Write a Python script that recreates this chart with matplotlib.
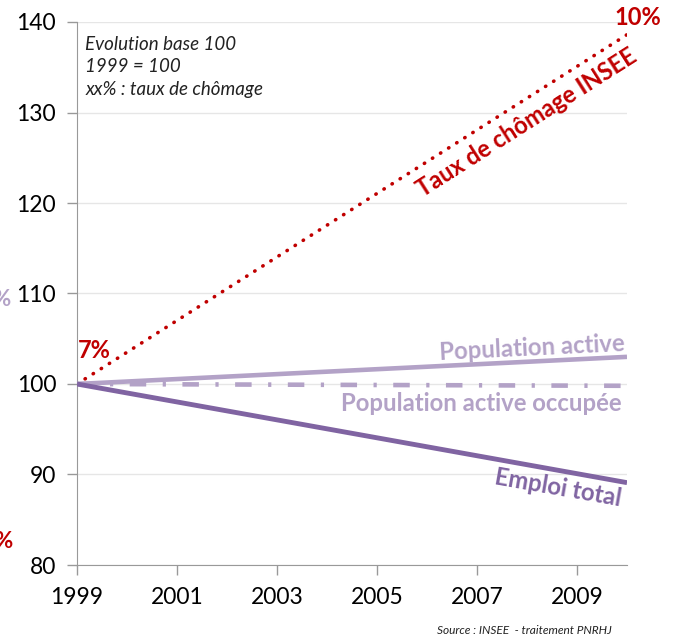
import matplotlib
matplotlib.use("Agg")
import matplotlib.pyplot as plt

years = [1999, 2010]
chomage = [100, 138.6]
pop_active = [100, 103.0]
pop_occupee = [100, 99.8]
emploi_total = [100, 89.1]
xticks = [1999, 2001, 2003, 2005, 2007, 2009]
yticks = [80, 90, 100, 110, 120, 130, 140]

RED = "#C00000"
LIGHT = "#B3A2C7"
DARK = "#8064A2"
FONT = "Lato"

fig = plt.figure(figsize=(6.76, 6.39), dpi=100)
ax = fig.add_axes([77/676, 1-565/639, (627-77)/676, (565-22)/639])

ax.plot(years, chomage, color=RED, lw=2.6, linestyle=(0, (0.1, 2.55)), dash_capstyle="round", zorder=3)
ax.plot(years, pop_active, color=LIGHT, lw=3.3, solid_capstyle="butt", zorder=3)
ax.plot(years, pop_occupee, color=LIGHT, lw=3.3, linestyle=(0, (3.6, 3.6, 0.7, 3.6)), zorder=2)
ax.plot(years, emploi_total, color=DARK, lw=3.5, solid_capstyle="butt", zorder=3)

ax.set_xlim(1999, 2010)
ax.set_ylim(80, 140)
ax.set_xticks(xticks)
ax.set_yticks(yticks)
ax.set_xticklabels([str(x) for x in xticks], fontsize=16.5, family=FONT)
ax.set_yticklabels([str(y) for y in yticks], fontsize=16.5, family=FONT)
ax.tick_params(axis="both", direction="out", length=7, color="#999999", width=1)
ax.tick_params(axis="x", pad=9)
ax.tick_params(axis="y", pad=8)
ax.grid(axis="y", color="#E6E6E6", lw=1)
ax.set_axisbelow(True)
for s in ["top", "right"]:
    ax.spines[s].set_visible(False)
for s in ["left", "bottom"]:
    ax.spines[s].set_color("#999999")

ax.text(0.015, 0.975, "Evolution base 100\n1999 = 100\nxx% : taux de chômage",
        transform=ax.transAxes, ha="left", va="top", fontsize=13.5, style="italic",
        family=FONT, color="#222222", linespacing=1.4)

ax.text(2008.0, 128.9, "Taux de chômage INSEE", color=RED, fontsize=17, fontweight="bold",
        family=FONT, rotation=32.5, ha="center", va="center", rotation_mode="anchor")
ax.text(2010.22, 140.5, "10%", color=RED, fontsize=17, fontweight="bold", family=FONT,
        ha="center", va="center")
ax.text(1999.34, 103.75, "7%", color=RED, fontsize=17, fontweight="bold", family=FONT,
        ha="center", va="center")
ax.text(2008.1, 104.0, "Population active", color=LIGHT, fontsize=17.2, fontweight="bold",
        family=FONT, rotation=2.8, ha="center", va="center", rotation_mode="anchor")
ax.text(2007.08, 97.9, "Population active occupée", color=LIGHT, fontsize=17.2, fontweight="bold",
        family=FONT, ha="center", va="center")
ax.text(2008.62, 88.5, "Emploi total", color=DARK, fontsize=17.2, fontweight="bold",
        family=FONT, rotation=-10, ha="center", va="center", rotation_mode="anchor")

fig.text(10/676, 1-300/639, "%", color=LIGHT, fontsize=16, fontweight="bold", family=FONT,
         ha="right", va="center")
fig.text(12/676, 1-541/639, "%", color=RED, fontsize=16, fontweight="bold", family=FONT,
         ha="right", va="center")

fig.text(612/676, 1-630/639, "Source : INSEE  - traitement PNRHJ", fontsize=8.6, style="italic",
         family=FONT, color="#222222", ha="right", va="center")

fig.savefig("out.png", dpi=100)
